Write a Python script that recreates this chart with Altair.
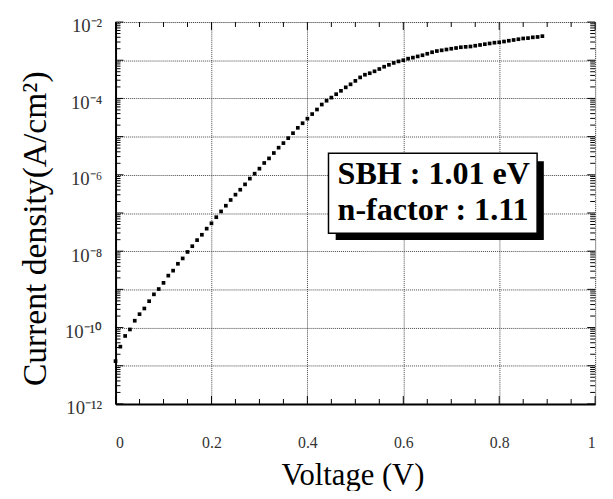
import altair as alt
import pandas as pd

# ---- data ----
voltage = [0.00, 0.01, 0.02, 0.03, 0.04, 0.05, 0.06, 0.07, 0.08, 0.09,
           0.10, 0.11, 0.12, 0.13, 0.14, 0.15, 0.16, 0.17, 0.18, 0.19,
           0.20, 0.21, 0.22, 0.23, 0.24, 0.25, 0.26, 0.27, 0.28, 0.29,
           0.30, 0.31, 0.32, 0.33, 0.34, 0.35, 0.36, 0.37, 0.38, 0.39,
           0.40, 0.41, 0.42, 0.43, 0.44, 0.45, 0.46, 0.47, 0.48, 0.49,
           0.50, 0.51, 0.52, 0.53, 0.54, 0.55, 0.56, 0.57, 0.58, 0.59,
           0.60, 0.61, 0.62, 0.63, 0.64, 0.65, 0.66, 0.67, 0.68, 0.69,
           0.70, 0.71, 0.72, 0.73, 0.74, 0.75, 0.76, 0.77, 0.78, 0.79,
           0.80, 0.81, 0.82, 0.83, 0.84, 0.85, 0.86, 0.87, 0.88, 0.89]
current_density = [
    1.32e-11, 3.16e-11, 6.03e-11, 8.91e-11, 1.51e-10, 2.24e-10, 3.16e-10, 4.90e-10, 7.41e-10, 1.02e-9,
    1.48e-9, 2.29e-9, 3.09e-9, 4.68e-9, 6.46e-9, 9.55e-9, 1.35e-8, 1.95e-8, 2.69e-8, 3.89e-8,
    5.37e-8, 7.76e-8, 1.10e-7, 1.55e-7, 2.19e-7, 3.02e-7, 4.07e-7, 5.62e-7, 7.94e-7, 1.07e-6,
    1.45e-6, 2.04e-6, 2.69e-6, 3.72e-6, 5.13e-6, 6.76e-6, 9.12e-6, 1.23e-5, 1.70e-5, 2.24e-5,
    2.95e-5, 3.89e-5, 5.13e-5, 6.92e-5, 8.71e-5, 1.05e-4, 1.29e-4, 1.58e-4, 1.95e-4, 2.34e-4,
    2.88e-4, 3.55e-4, 4.17e-4, 4.57e-4, 5.13e-4, 5.89e-4, 6.76e-4, 7.59e-4, 8.51e-4, 9.33e-4,
    1.00e-3, 1.10e-3, 1.17e-3, 1.26e-3, 1.35e-3, 1.48e-3, 1.62e-3, 1.74e-3, 1.82e-3, 1.91e-3,
    2.00e-3, 2.09e-3, 2.19e-3, 2.24e-3, 2.29e-3, 2.40e-3, 2.51e-3, 2.63e-3, 2.75e-3, 2.88e-3,
    2.95e-3, 3.09e-3, 3.24e-3, 3.39e-3, 3.55e-3, 3.72e-3, 3.80e-3, 3.98e-3, 4.07e-3, 4.27e-3]

x_major = [0, 0.2, 0.4, 0.6, 0.8, 1]
x_minor = [0.05, 0.1, 0.15, 0.25, 0.3, 0.35, 0.45, 0.5, 0.55,
           0.65, 0.7, 0.75, 0.85, 0.9, 0.95]
y_exponents = [-2, -3, -4, -5, -6, -7, -8, -9, -10, -11, -12]
y_label_text = ["10⁻²", "", "10⁻⁴", "", "10⁻⁶", "", "10⁻⁸", "", "10⁻¹⁰", "", "10⁻¹²"]
y_minor_mult = [2, 3, 4, 5, 6, 7, 8, 9]

annot_lines = ["SBH : 1.01 eV", "n-factor : 1.11"]

# ---- build tables ----
W, H = 486, 387
FONT = "Liberation Serif"

df = pd.DataFrame({"V": voltage, "J": current_density})
y_major = [10.0 ** e for e in y_exponents]
y_minor = [m * 10.0 ** e for e in y_exponents[1:] for m in y_minor_mult]

xs = alt.Scale(domain=[0, 1], nice=False, zero=False)
ys = alt.Scale(type="log", domain=[1e-12, 1e-2], nice=False)

label_expr = "".join(
    f"round(log(datum.value)/LN10) == {e} ? '{t}' : " for e, t in zip(y_exponents, y_label_text)
) + "''"

x_axis = alt.Axis(values=x_major, format="~g", grid=True, gridDash=[1, 1], gridColor="#444",
                  gridWidth=1, tickSize=0, labelPadding=31, labelFont=FONT, labelFontSize=16,
                  labelColor="#333", domainColor="black", domainWidth=2,
                  title="Voltage (V)", titleFont=FONT, titleFontSize=31, titleFontWeight="normal",
                  titleColor="black", titleX=240, titleY=82, titleBaseline="alphabetic")
y_axis = alt.Axis(values=y_major, labelExpr=label_expr, grid=True, gridDash=[1, 1],
                  gridColor="#444", gridWidth=1, tickSize=0, labelPadding=14, labelFont=FONT,
                  labelFontSize=19, labelColor="#333", labelBaseline="alphabetic", labelOffset=10,
                  domainColor="black", domainWidth=2,
                  title="Current density(A/cm²)", titleFont=FONT, titleFontSize=34,
                  titleFontWeight="normal", titleColor="black", titleAngle=-90,
                  titleX=-71, titleY=209, titleBaseline="alphabetic", titleAlign="center")


def X(field):
    return alt.X(field, type="quantitative", scale=xs, axis=x_axis, title="Voltage (V)")


def Y(field):
    return alt.Y(field, type="quantitative", scale=ys, axis=y_axis, title="Current density(A/cm²)")


points = alt.Chart(df).mark_square(size=14, color="black", opacity=1).encode(
    x=X("V"), y=Y("J"))


def xticks(vals, length):
    d = pd.DataFrame({"V": vals})
    bottom = alt.Chart(d).mark_rule(color="black", strokeWidth=1).encode(
        x=X("V"), y=alt.value(H), y2=alt.value(H - length))
    top = alt.Chart(d).mark_rule(color="black", strokeWidth=1).encode(
        x=X("V"), y=alt.value(0), y2=alt.value(length))
    return [bottom, top]


def yticks(vals, length):
    d = pd.DataFrame({"J": vals})
    left = alt.Chart(d).mark_rule(color="black", strokeWidth=1).encode(
        y=Y("J"), x=alt.value(0), x2=alt.value(length))
    right = alt.Chart(d).mark_rule(color="black", strokeWidth=1).encode(
        y=Y("J"), x=alt.value(W - length), x2=alt.value(W))
    return [left, right]


# annotation box (positions in data space)
shadow = alt.Chart(pd.DataFrame({"V": [0.459], "V2": [0.893], "J": [2.27e-6], "J2": [1.95e-8]})
                   ).mark_rect(color="black").encode(
    x=X("V"), x2="V2", y=Y("J"), y2="J2")
box = alt.Chart(pd.DataFrame({"V": [0.444], "V2": [0.879], "J": [3.66e-6], "J2": [2.95e-8]})
                ).mark_rect(fill="white", stroke="black", strokeWidth=1.5).encode(
    x=X("V"), x2="V2", y=Y("J"), y2="J2")
text = alt.Chart(pd.DataFrame({"V": [0.463, 0.463], "J": [5.78e-7, 6.40e-8], "t": annot_lines})
                 ).mark_text(font=FONT, fontSize=32.5, fontWeight="bold", align="left",
                             baseline="alphabetic", color="black").encode(
    x=X("V"), y=Y("J"), text="t:N")

chart = alt.layer(
    points,
    *xticks(x_minor, 5), *xticks(x_major, 8),
    *yticks(y_minor, 5), *yticks(y_major, 8),
    shadow, box, text,
).properties(
    width=W, height=H,
    padding={"left": 109, "top": 11, "right": 10, "bottom": 85},
    autosize=alt.AutoSizeParams(type="none"),
).configure_view(stroke="black", strokeWidth=1.5).configure(background="white")

chart.save("out.html", embed_options={"renderer": "svg", "actions": False})
